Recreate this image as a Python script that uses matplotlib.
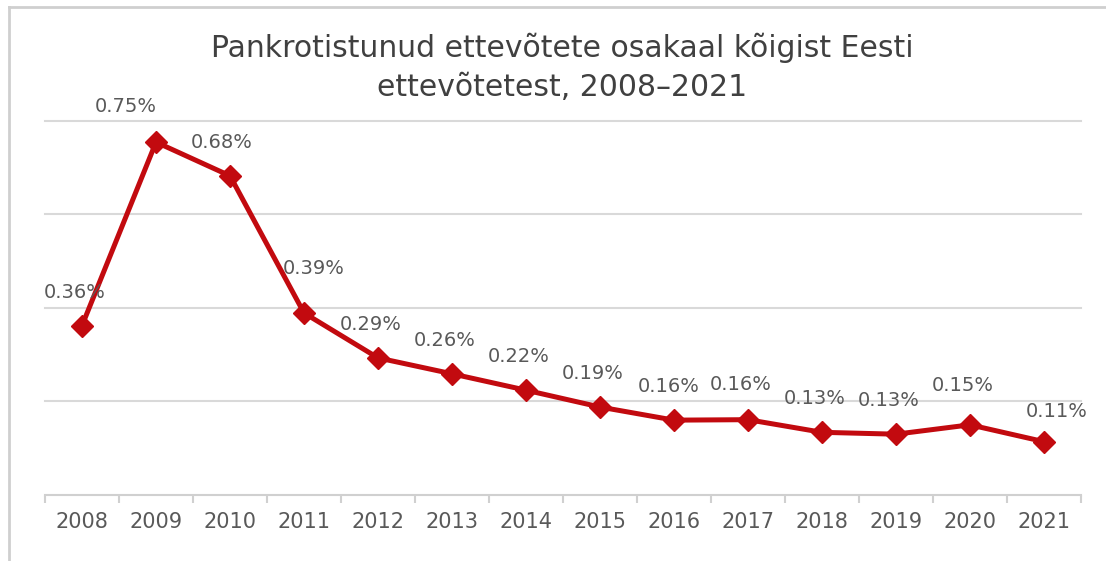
import matplotlib
matplotlib.use("Agg")
import matplotlib.pyplot as plt
from matplotlib.lines import Line2D

# Daten
years = ["2008", "2009", "2010", "2011", "2012", "2013", "2014",
         "2015", "2016", "2017", "2018", "2019", "2020", "2021"]
share = [0.362, 0.754, 0.682, 0.389, 0.293, 0.259, 0.224,
         0.188, 0.160, 0.161, 0.134, 0.130, 0.150, 0.114]
title = "Pankrotistunud ettevõtete osakaal kõigist Eesti\nettevõtetest, 2008–2021"

# label offsets (points) relative to each marker
offsets = [(-5, 24), (-22, 26), (-6, 24), (7, 32), (-5, 24), (-5, 24), (-5, 24),
           (-5, 24), (-4, 24), (-5, 25), (-5, 24), (-5, 24), (-5, 28), (9, 22)]

plt.rcParams["font.family"] = ["DejaVu Sans"]
grey = "#595959"
red = "#c20a0f"

fig = plt.figure(figsize=(11.06, 5.61), dpi=100)
ax = fig.add_axes([0.0407, 0.1176, 0.9367, 0.6674])

x = list(range(len(years)))
ax.plot(x, share, color=red, linewidth=3.6, marker="D", markersize=11,
        markerfacecolor=red, markeredgecolor=red, zorder=3)

for xi, v, (dx, dy) in zip(x, share, offsets):
    ax.annotate(f"{v:.2f}%", (xi, v), xytext=(dx, dy), textcoords="offset points",
                ha="center", va="center", fontsize=14, color=grey)

ax.set_xlim(-0.5, len(years) - 0.5)
ax.set_ylim(0, 0.8)
ax.set_yticks([0.2, 0.4, 0.6, 0.8])
ax.yaxis.grid(True, color="#d9d9d9", linewidth=1.5)
for gl in ax.get_ygridlines():
    gl.set_clip_on(False)
ax.set_axisbelow(True)
ax.tick_params(axis="y", left=False, labelleft=False)

ax.set_xticks(x)
ax.set_xticklabels(years, fontsize=15, color=grey)
ax.set_xticks([i - 0.5 for i in range(len(years) + 1)], minor=True)
ax.tick_params(axis="x", which="major", length=0, pad=12)
ax.tick_params(axis="x", which="minor", length=6, width=1.5, color="#d0d0d0")

for s in ["top", "right", "left"]:
    ax.spines[s].set_visible(False)
ax.spines["bottom"].set_color("#d0d0d0")
ax.spines["bottom"].set_linewidth(1.5)

fig.text(0.508, 0.88, title, ha="center", va="center", fontsize=21.5,
         color="#404040", linespacing=1.45)

# chart border (cropped)
fig.add_artist(Line2D([0.0085, 0.0085], [0, 0.9875], color="#cfcfcf", linewidth=2,
                      transform=fig.transFigure))
fig.add_artist(Line2D([0.0085, 1], [0.9875, 0.9875], color="#cfcfcf", linewidth=2,
                      transform=fig.transFigure))

fig.savefig("out.png", dpi=100)
